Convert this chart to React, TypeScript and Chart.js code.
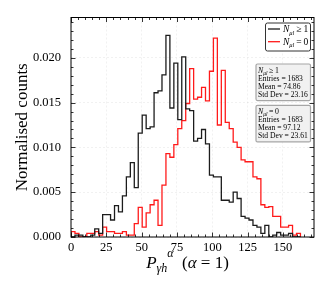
import React, { useEffect, useRef } from 'react';
import { Chart, registerables } from 'chart.js';

Chart.register(...registerables);

// ---------- data ----------
const BIN_START = 0;
const BIN_WIDTH = 2.8;
const X_MIN = 0;
const X_MAX = 172;
const Y_MIN = 0;
const Y_MAX = 0.0245;
const X_TICKS = [0, 25, 50, 75, 100, 125, 150];
const Y_TICKS = [0, 0.005, 0.01, 0.015, 0.02];

const SERIES_LABELS = ['N_μl ≥ 1', 'N_μl = 0'];
const LEGEND_BASE = 'N';
const LEGEND_SUB = 'μl';
const LEGEND_TAIL = ['\u2009≥\u20091', '\u2009=\u20090'];

// normalised counts per bin, N_μl >= 1
const DENSITY_GE1 = [
  0, 0.0002, 0.0002, 0, 0, 0.0002, 0.0009, 0.0004, 0.0025, 0.0025,
  0.0019, 0.0035, 0.0028, 0.0046, 0.0067, 0.0083, 0.0055, 0.0116, 0.0136, 0.0121,
  0.0123, 0.0161, 0.0163, 0.0181, 0.0225, 0.0144, 0.0194, 0.0131, 0.0201, 0.0143,
  0.0141, 0.0107, 0.0110, 0.0120, 0.0104, 0.0069, 0.0067, 0.0067, 0.0041, 0.0041,
  0.0039, 0.0050, 0.0043, 0.0023, 0.0021, 0.0019, 0.0013, 0.0011, 0.0004, 0.0013,
  0, 0.0002, 0.0005, 0.0002, 0.0002, 0.0004, 0, 0,
];
// normalised counts per bin, N_μl = 0
const DENSITY_EQ0 = [
  0.0006, 0.0004, 0, 0, 0.0004, 0.0004, 0.0006, 0.0002, 0.0011, 0.0006,
  0.0006, 0.0004, 0.0004, 0.0006, 0.0002, 0.0002, 0.0015, 0.0033, 0.0011, 0.0027,
  0.0036, 0.0041, 0.0013, 0.0058, 0.0093, 0.0089, 0.0103, 0.0121, 0.0130, 0.0149,
  0.0188, 0.0154, 0.0156, 0.0167, 0.0152, 0.0185, 0.0222, 0.0125, 0.0186, 0.0128,
  0.0121, 0.0106, 0.0100, 0.0086, 0.0084, 0.0084, 0.0067, 0.0065, 0.0036, 0.0033,
  0.0034, 0.0023, 0.0023, 0.0011, 0.0011, 0.0013, 0.0002, 0.0004,
];

const STAT_ENTRIES = [1683, 1683];
const STAT_MEAN = [74.86, 97.12];
const STAT_STD = [23.16, 23.61];

const COLORS = ['#1c1c1c', '#ff1a1a'];

// ---------- helpers ----------
const SERIF = '"Liberation Serif", "DejaVu Serif", serif';

function stepPoints(vals: number[]) {
  const pts: { x: number; y: number }[] = [{ x: BIN_START, y: 0 }];
  vals.forEach((v, i) => {
    const x0 = BIN_START + i * BIN_WIDTH;
    pts.push({ x: x0, y: v }, { x: x0 + BIN_WIDTH, y: v });
  });
  pts.push({ x: BIN_START + vals.length * BIN_WIDTH, y: 0 });
  return pts;
}

type Seg = { t: string; f: string; dy: number };

function richWidth(ctx: CanvasRenderingContext2D, segs: Seg[]) {
  let w = 0;
  for (const s of segs) {
    ctx.font = s.f;
    w += ctx.measureText(s.t).width;
  }
  return w;
}

function drawRich(ctx: CanvasRenderingContext2D, segs: Seg[], x: number, y: number) {
  let cx = x;
  for (const s of segs) {
    ctx.font = s.f;
    ctx.fillText(s.t, cx, y + s.dy);
    cx += ctx.measureText(s.t).width;
  }
}

function roundRect(ctx: CanvasRenderingContext2D, x: number, y: number, w: number, h: number, r: number) {
  ctx.beginPath();
  ctx.moveTo(x + r, y);
  ctx.lineTo(x + w - r, y);
  ctx.arcTo(x + w, y, x + w, y + r, r);
  ctx.lineTo(x + w, y + h - r);
  ctx.arcTo(x + w, y + h, x + w - r, y + h, r);
  ctx.lineTo(x + r, y + h);
  ctx.arcTo(x, y + h, x, y + h - r, r);
  ctx.lineTo(x, y + r);
  ctx.arcTo(x, y, x + r, y, r);
  ctx.closePath();
}

const decorPlugin = {
  id: 'decor',
  afterDraw(chart: any) {
    const { ctx, chartArea: a, scales } = chart;
    const xs = scales.x;
    const ys = scales.y;
    ctx.save();

    // frame
    ctx.strokeStyle = '#000';
    ctx.lineWidth = 1;
    ctx.strokeRect(a.left, a.top, a.right - a.left, a.bottom - a.top);

    // inward ticks on all sides
    const tick = (x1: number, y1: number, x2: number, y2: number) => {
      ctx.beginPath();
      ctx.moveTo(x1, y1);
      ctx.lineTo(x2, y2);
      ctx.stroke();
    };
    ctx.lineWidth = 0.8;
    for (let v = X_MIN; v <= X_MAX; v += 5) {
      const major = X_TICKS.includes(v);
      const len = major ? 4.5 : 2.5;
      const px = Math.round(xs.getPixelForValue(v)) + 0.5;
      tick(px, a.bottom, px, a.bottom - len);
      tick(px, a.top, px, a.top + len);
    }
    for (let k = 0; k * 0.001 <= Y_MAX; k++) {
      const v = k * 0.001;
      const major = k % 5 === 0;
      const len = major ? 4.5 : 2.5;
      const py = Math.round(ys.getPixelForValue(v)) + 0.5;
      tick(a.left, py, a.left + len, py);
      tick(a.right, py, a.right - len, py);
    }

    // x-axis title: P_{γh}^α (α = 1)
    ctx.fillStyle = '#000';
    ctx.textAlign = 'left';
    ctx.textBaseline = 'alphabetic';
    const big = 17;
    const small = 12;
    const xt: Seg[] = [
      { t: 'P', f: `italic ${big}px ${SERIF}`, dy: 0 },
      { t: 'γh', f: `italic ${small}px ${SERIF}`, dy: 4 },
      { t: 'α', f: `italic ${small}px ${SERIF}`, dy: -11 },
      { t: '  (', f: `${big}px ${SERIF}`, dy: 0 },
      { t: 'α', f: `italic ${big}px ${SERIF}`, dy: 0 },
      { t: ' = 1)', f: `${big}px ${SERIF}`, dy: 0 },
    ];
    const xw = richWidth(ctx, xt);
    const xc = (a.left + a.right) / 2 - 5;
    drawRich(ctx, xt, xc - xw / 2, a.bottom + 31);

    // legend box
    const lx = a.right - 49;
    const ly = a.top + 5;
    ctx.fillStyle = '#fff';
    roundRect(ctx, lx + 0.5, ly + 0.5, 45, 28, 2);
    ctx.fill();
    ctx.strokeStyle = '#333';
    ctx.lineWidth = 1;
    ctx.stroke();
    for (let i = 0; i < 2; i++) {
      const ry = ly + 6.5 + i * 12.7;
      ctx.strokeStyle = COLORS[i];
      ctx.lineWidth = 1.3;
      ctx.beginPath();
      ctx.moveTo(lx + 3, ry);
      ctx.lineTo(lx + 15, ry);
      ctx.stroke();
      ctx.fillStyle = '#000';
      drawRich(ctx, [
        { t: LEGEND_BASE, f: `italic 9.5px ${SERIF}`, dy: 0 },
        { t: LEGEND_SUB, f: `italic 6.5px ${SERIF}`, dy: 2.3 },
        { t: LEGEND_TAIL[i], f: `9.5px ${SERIF}`, dy: 0 },
      ], lx + 18, ry + 3.3);
    }

    // stats boxes
    for (let i = 0; i < 2; i++) {
      const bx = a.right - 58.5;
      const by = a.top + 46 + i * 41.3;
      const bw = 54.5;
      const bh = 36.6;
      ctx.fillStyle = '#f1f1f1';
      roundRect(ctx, bx + 0.5, by + 0.5, bw, bh, 1.5);
      ctx.fill();
      ctx.strokeStyle = '#a6a6a6';
      ctx.lineWidth = 1.2;
      ctx.stroke();
      ctx.fillStyle = '#000';
      const tx = bx + 2.5;
      const t0 = by + 9.3;
      drawRich(ctx, [
        { t: LEGEND_BASE, f: `italic 7.8px ${SERIF}`, dy: 0 },
        { t: LEGEND_SUB, f: `italic 5.5px ${SERIF}`, dy: 1.8 },
        { t: LEGEND_TAIL[i], f: `7.8px ${SERIF}`, dy: 0 },
      ], tx, t0);
      ctx.font = `7.6px ${SERIF}`;
      ctx.fillText(`Entries = ${STAT_ENTRIES[i]}`, tx, t0 + 8);
      ctx.fillText(`Mean = ${STAT_MEAN[i].toFixed(2)}`, tx, t0 + 16);
      ctx.fillText(`Std Dev = ${STAT_STD[i].toFixed(2)}`, tx, t0 + 24);
    }

    ctx.restore();
  },
};

export default function App() {
  const ref = useRef<HTMLCanvasElement | null>(null);

  useEffect(() => {
    if (!ref.current) return;
    const series = [DENSITY_GE1, DENSITY_EQ0];
    const chart = new Chart(ref.current, {
      type: 'line',
      data: {
        datasets: series.map((vals, i) => ({
          label: SERIES_LABELS[i],
          data: stepPoints(vals),
          borderColor: COLORS[i],
          backgroundColor: COLORS[i],
          borderWidth: 1.3,
          pointRadius: 0,
          tension: 0,
          fill: false,
        })),
      },
      options: {
        responsive: false,
        animation: false,
        events: [],
        layout: { padding: { left: 0, top: 17, right: 18, bottom: 0 } },
        plugins: {
          legend: { display: false },
          tooltip: { enabled: false },
        },
        scales: {
          x: {
            type: 'linear',
            min: X_MIN,
            max: X_MAX,
            afterBuildTicks: (s: any) => {
              s.ticks = X_TICKS.map((v) => ({ value: v }));
            },
            afterFit: (s: any) => {
              s.height = 54;
            },
            ticks: {
              color: '#000',
              font: { family: SERIF, size: 12.5 },
              padding: 3,
              maxRotation: 0,
              callback: (v: any) => String(v),
            },
            grid: { color: 'rgba(0,0,0,0.07)', lineWidth: 0.8, drawTicks: false },
            border: { display: false, dash: [2, 2] },
          },
          y: {
            type: 'linear',
            min: Y_MIN,
            max: Y_MAX,
            afterBuildTicks: (s: any) => {
              s.ticks = Y_TICKS.map((v) => ({ value: v }));
            },
            afterFit: (s: any) => {
              s.width = 71;
            },
            ticks: {
              color: '#000',
              font: { family: SERIF, size: 12.5 },
              padding: 10,
              callback: (v: any) => Number(v).toFixed(3),
            },
            grid: { color: 'rgba(0,0,0,0.07)', lineWidth: 0.8, drawTicks: false },
            border: { display: false, dash: [2, 2] },
            title: {
              display: true,
              text: 'Normalised counts',
              color: '#000',
              font: { family: SERIF, size: 17 },
              padding: { top: 12, bottom: 0 },
            },
          },
        },
      },
      plugins: [decorPlugin],
    } as any);
    return () => chart.destroy();
  }, []);

  return (
    <div style={{ position: 'fixed', left: 0, top: 0, width: 332, height: 291, background: '#fff' }}>
      <canvas ref={ref} width={332} height={291} />
    </div>
  );
}
